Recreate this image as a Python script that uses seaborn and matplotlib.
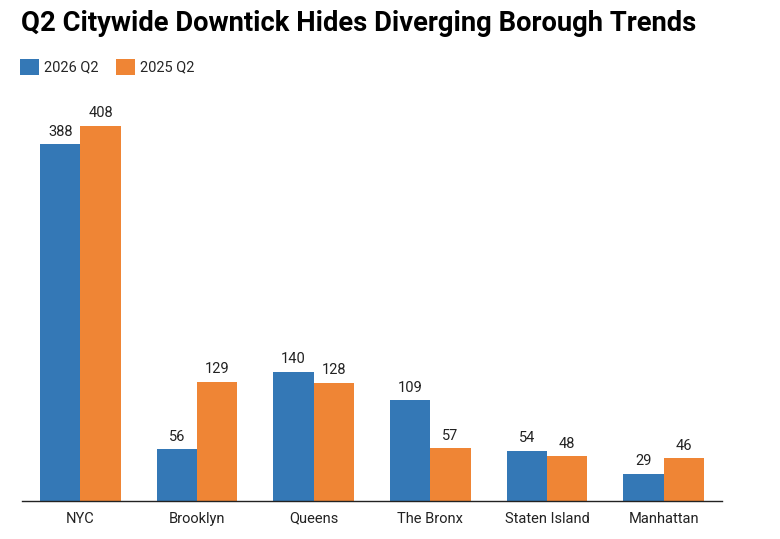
import matplotlib
matplotlib.use("Agg")
import matplotlib.pyplot as plt
from matplotlib.patches import Patch
import seaborn as sns
import pandas as pd

# data
boroughs = ["NYC", "Brooklyn", "Queens", "The Bronx", "Staten Island", "Manhattan"]
q2_2026 = [388, 56, 140, 109, 54, 29]
q2_2025 = [408, 129, 128, 57, 48, 46]
series = ["2026 Q2", "2025 Q2"]
colors = ["#3478b6", "#ef8535"]

df = pd.DataFrame({
    "borough": boroughs * 2,
    "value": q2_2026 + q2_2025,
    "period": [series[0]] * len(boroughs) + [series[1]] * len(boroughs),
})

sns.set_theme(style="white")
plt.rcParams["font.family"] = ["Roboto", "DejaVu Sans"]

fig = plt.figure(figsize=(7.8, 5.39), dpi=100)
ax = fig.add_axes([0.0282, 0.0714, 0.8974, 0.743])

sns.barplot(data=df, x="borough", y="value", hue="period", palette=colors,
            width=0.69, gap=0, saturation=1, ax=ax, legend=False,
            edgecolor="none")

for cont in ax.containers:
    ax.bar_label(cont, padding=4, fontsize=10.5, color="#222222")

ax.set_ylim(0, 436)
ax.set_xlim(-0.5, len(boroughs) - 0.5)
ax.set_xlabel("")
ax.set_ylabel("")
ax.set_yticks([])
for s in ["top", "right", "left"]:
    ax.spines[s].set_visible(False)
ax.spines["bottom"].set_color("#222222")
ax.spines["bottom"].set_linewidth(1.0)
ax.tick_params(axis="x", length=0, labelsize=10.5, labelcolor="#222222", pad=8)

fig.text(0.027, 0.957, "Q2 Citywide Downtick Hides Diverging Borough Trends",
         fontsize=19.7, fontweight="bold", ha="left", va="center", color="#000000")

handles = [Patch(facecolor=c, edgecolor="none", label=l) for c, l in zip(colors, series)]
fig.legend(handles=handles, loc="center left", bbox_to_anchor=(0.018, 0.876),
           ncol=2, frameon=False, fontsize=10.5, handlelength=1.3, handleheight=1.3,
           handletextpad=0.35, columnspacing=1.2, borderaxespad=0)

plt.savefig("out.png", dpi=100)
plt.close()
